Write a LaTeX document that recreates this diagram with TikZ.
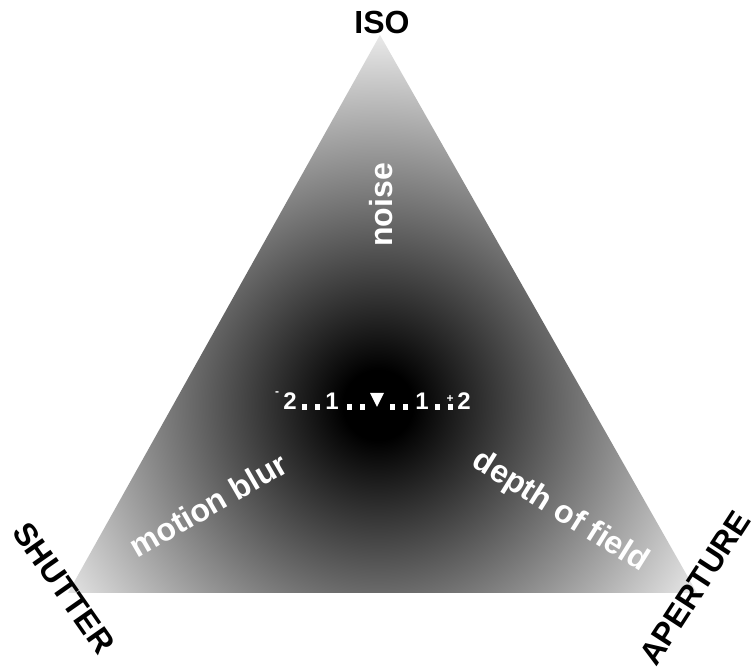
\documentclass[tikz,border=0pt]{standalone}
\usepackage{fontspec}
\setmainfont{Liberation Sans}
\usetikzlibrary{positioning}
\pgfdeclareradialshading{meterglow}{\pgfpointorigin}{color(0bp)=(black); color(35bp)=(black); color(400bp)=(white); color(500bp)=(white)}

\begin{document}
\begin{tikzpicture}[x=1pt, y=1pt,
    corner/.style={font=\fontsize{32}{38}\selectfont\bfseries, text=black, inner sep=0pt},
    effect/.style={font=\fontsize{32}{38}\selectfont\bfseries, text=white, inner sep=0pt},
    meter/.style={font=\fontsize{24}{26}\selectfont\bfseries, text=white, anchor=base, inner sep=0pt},
    sign/.style={font=\fontsize{12}{14}\selectfont\bfseries, text=white, anchor=base, inner sep=0pt}]
    \useasboundingbox (0,0) rectangle (753,671);

    % Triangle corners
    \coordinate (top) at (380,636);
    \coordinate (left) at (68,78);
    \coordinate (right) at (697,78);
    \coordinate (ctr) at (378,266);

    % Shaded triangle
    \begin{scope}
        \clip (top) -- (left) -- (right) -- cycle;
        \node[inner sep=0pt] (glow) at (ctr) {\pgfuseshading{meterglow}};
    \end{scope}

    % Corner labels
    \node[corner] (iso) at (382,649) {ISO};
    \node[corner, rotate=-55] (shutter) at (64,83) {SHUTTER};
    \node[corner, rotate=57] (aperture) at (695,83) {APERTURE};

    % Effects
    \node[effect, rotate=90] (noise) at (381,466) {noise};
    \node[effect, rotate=30] (blur) at (208,166) {motion blur};
    \node[effect, rotate=-32] (dof) at (560,159) {depth of field};

    % Exposure meter
    \begin{scope}[shift={(377,261)}]
        \fill[white] (-7,17) -- (7,17) -- (0,3) -- cycle;
        \foreach \d in {-73,-60,-28,-15,15,28,60,73}
            \fill[white] (\d-2.5,0) rectangle (\d+2.5,6);
        \node[meter] (mone) at (-45,0) {1};
        \node[meter] (pone) at (45,0) {1};
        \node[meter] (mtwo) at (-87,0) {2};
        \node[meter] (ptwo) at (87,0) {2};
        \node[sign] (minus) at (-100,14) {-};
        \node[sign] (plus) at (73,7) {+};
    \end{scope}
\end{tikzpicture}
\end{document}
